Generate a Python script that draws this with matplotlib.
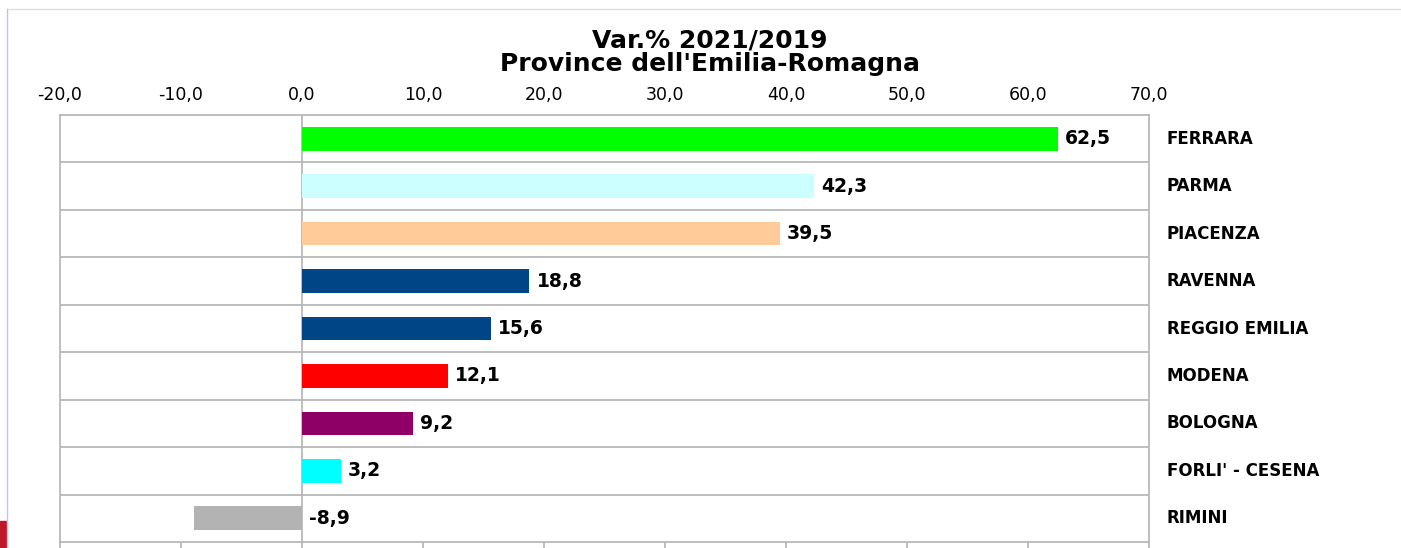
import matplotlib
matplotlib.use("Agg")
import matplotlib.pyplot as plt
from matplotlib.patches import Rectangle
from matplotlib.lines import Line2D
from matplotlib.transforms import blended_transform_factory

provinces = ["FERRARA", "PARMA", "PIACENZA", "RAVENNA", "REGGIO EMILIA",
             "MODENA", "BOLOGNA", "FORLI' - CESENA", "RIMINI"]
values = [62.5, 42.3, 39.5, 18.8, 15.6, 12.1, 9.2, 3.2, -8.9]
colors = ["#00FF00", "#CCFFFF", "#FFCC99", "#004586", "#004586",
          "#FF0000", "#8E0066", "#00FFFF", "#B3B3B3"]
xticks = [-20, -10, 0, 10, 20, 30, 40, 50, 60, 70]
title_lines = ["Var.% 2021/2019", "Province dell'Emilia-Romagna"]

plt.rcParams['font.family'] = ['DejaVu Sans']

W, H = 1401, 548
fig = plt.figure(figsize=(W / 100, H / 100), dpi=100)
L, R, T, B = 60, 1149, 115, 542
ax = fig.add_axes([L / W, 1 - B / H, (R - L) / W, (B - T) / H])

n = len(provinces)
ypos = list(range(n))
ax.barh(ypos, values, height=0.5, color=colors, zorder=3)
ax.set_ylim(n - 0.5, -0.5)
ax.set_xlim(-20, 70)

grid_c = "#B3B3B3"
for i in range(n - 1):
    ax.axhline(i + 0.5, color=grid_c, lw=1.2, zorder=1)
ax.axvline(0, color=grid_c, lw=1.2, zorder=1)
for s in ax.spines.values():
    s.set_color(grid_c)
    s.set_linewidth(1.2)

ax.set_xticks(xticks)
ax.set_xticklabels([f"{t:.1f}".replace(".", ",") for t in xticks])
ax.tick_params(axis='x', top=False, bottom=True, labeltop=True, labelbottom=False,
               direction='out', length=10, color=grid_c, width=1.2,
               labelsize=12.5, pad=-2)
ax.set_yticks([])

for y, v in zip(ypos, values):
    ax.annotate(f"{v:.1f}".replace(".", ","), (max(v, 0), y),
                xytext=(7, 0), textcoords="offset pixels",
                ha="left", va="center", fontsize=13.5, fontweight="bold", zorder=4)

tr = blended_transform_factory(ax.transAxes, ax.transData)
for y, name in zip(ypos, provinces):
    ax.text(1 + (1167 - R) / (R - L), y, name, transform=tr, ha="left",
            va="center", fontsize=12, fontweight="bold")

fig.text(710 / W, 1 - 40 / H, title_lines[0], ha="center", va="center",
         fontsize=18, fontweight="bold")
fig.text(710 / W, 1 - 64 / H, title_lines[1], ha="center", va="center",
         fontsize=18, fontweight="bold")

# outer frame decorations
fig.add_artist(Line2D([7 / W, 1], [1 - 9 / H, 1 - 9 / H], color="#D8E0E8",
                      lw=1, transform=fig.transFigure))
fig.add_artist(Line2D([7 / W, 7 / W], [0, 1 - 9 / H], color="#C0C8DC",
                      lw=1, transform=fig.transFigure))
fig.add_artist(Rectangle((0, 0), 6 / W, 27 / H, color="#C0182A",
                         transform=fig.transFigure))

fig.savefig("out.png", dpi=100)
